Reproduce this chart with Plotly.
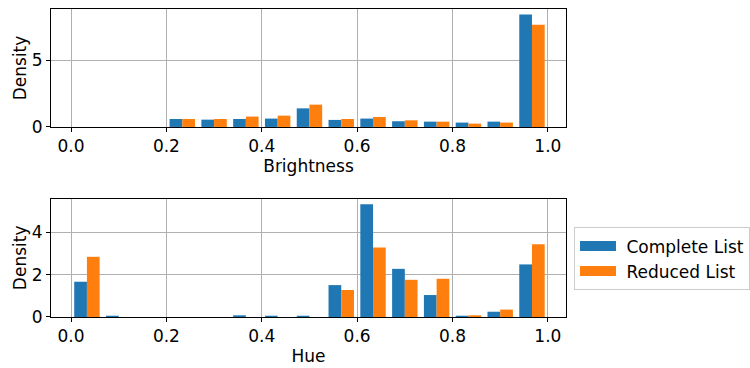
import plotly.graph_objects as go
from plotly.subplots import make_subplots

n_bins = 15
bin_centers = [(i + 0.5) / n_bins for i in range(n_bins)]

brightness_complete = [0, 0, 0, 0.60, 0.55, 0.60, 0.63, 1.40, 0.53, 0.63, 0.43, 0.40, 0.33, 0.40, 8.45]
brightness_reduced = [0, 0, 0, 0.60, 0.60, 0.78, 0.85, 1.68, 0.60, 0.75, 0.50, 0.40, 0.25, 0.33, 7.68]
hue_complete = [1.67, 0.03, 0, 0, 0, 0.08, 0.04, 0.05, 1.51, 5.34, 2.28, 1.04, 0.05, 0.25, 2.49]
hue_reduced = [2.85, 0, 0, 0, 0, 0, 0, 0, 1.28, 3.29, 1.76, 1.81, 0.08, 0.35, 3.45]

series_names = ["Complete List", "Reduced List"]

x_ticks = [0.0, 0.2, 0.4, 0.6, 0.8, 1.0]
x_tick_text = ["0.0", "0.2", "0.4", "0.6", "0.8", "1.0"]

BLUE = "#1f77b4"
ORANGE = "#ff7f0e"
FONT = "DejaVu Sans"
FS = 17

fig = make_subplots(rows=2, cols=1, vertical_spacing=0.233)

fig.add_trace(go.Bar(x=bin_centers, y=brightness_complete, name=series_names[0],
                     marker=dict(color=BLUE, line=dict(width=0)), showlegend=False), row=1, col=1)
fig.add_trace(go.Bar(x=bin_centers, y=brightness_reduced, name=series_names[1],
                     marker=dict(color=ORANGE, line=dict(width=0)), showlegend=False), row=1, col=1)
fig.add_trace(go.Bar(x=bin_centers, y=hue_complete, name=series_names[0],
                     marker=dict(color=BLUE, line=dict(width=0)), showlegend=False), row=2, col=1)
fig.add_trace(go.Bar(x=bin_centers, y=hue_reduced, name=series_names[1],
                     marker=dict(color=ORANGE, line=dict(width=0)), showlegend=False), row=2, col=1)

# legend-only entries (wide rectangular swatches like matplotlib)
for name, color in zip(series_names, [BLUE, ORANGE]):
    fig.add_trace(go.Scatter(x=[None], y=[None], mode="lines", name="\u00a0" + name,
                             line=dict(color=color, width=11), showlegend=True,
                             hoverinfo="skip"), row=2, col=1)

axis_common = dict(
    showline=True, linecolor="black", linewidth=1, mirror=True,
    ticks="outside", ticklen=4, tickwidth=1, tickcolor="black",
    showgrid=True, gridcolor="#b0b0b0", gridwidth=0.8,
    zeroline=False, tickfont=dict(family=FONT, size=FS, color="black"),
)

fig.update_xaxes(**axis_common, range=[-0.042, 1.038], tickvals=x_ticks, ticktext=x_tick_text)
fig.update_yaxes(**axis_common)

fig.update_xaxes(title=dict(text="Brightness", font=dict(family=FONT, size=FS, color="black"), standoff=4),
                 domain=[0, 1], row=1, col=1)
fig.update_xaxes(title=dict(text="Hue", font=dict(family=FONT, size=FS, color="black"), standoff=4),
                 domain=[0, 1], row=2, col=1)
fig.update_yaxes(title=dict(text="Density", font=dict(family=FONT, size=FS, color="black"), standoff=0),
                 range=[0, 8.87], tickvals=[0, 5], domain=[0.617, 1.0], row=1, col=1)
fig.update_yaxes(title=dict(text="Density", font=dict(family=FONT, size=FS, color="black"), standoff=0),
                 range=[0, 5.6], tickvals=[0, 2, 4], domain=[0.0, 0.384], row=2, col=1)

fig.update_layout(
    width=750, height=368,
    margin=dict(l=51, r=184, t=9, b=51, autoexpand=False),
    barmode="group", bargap=0.2, bargroupgap=0,
    plot_bgcolor="white", paper_bgcolor="white",
    font=dict(family=FONT, size=FS, color="black"),
    legend=dict(x=1.0155, y=0.291, xanchor="left", yanchor="top",
                bordercolor="#cccccc", borderwidth=1, bgcolor="white",
                font=dict(family=FONT, size=FS, color="black"),
                itemwidth=36, tracegroupgap=0),
    showlegend=True,
)

fig.write_html("out.html")
